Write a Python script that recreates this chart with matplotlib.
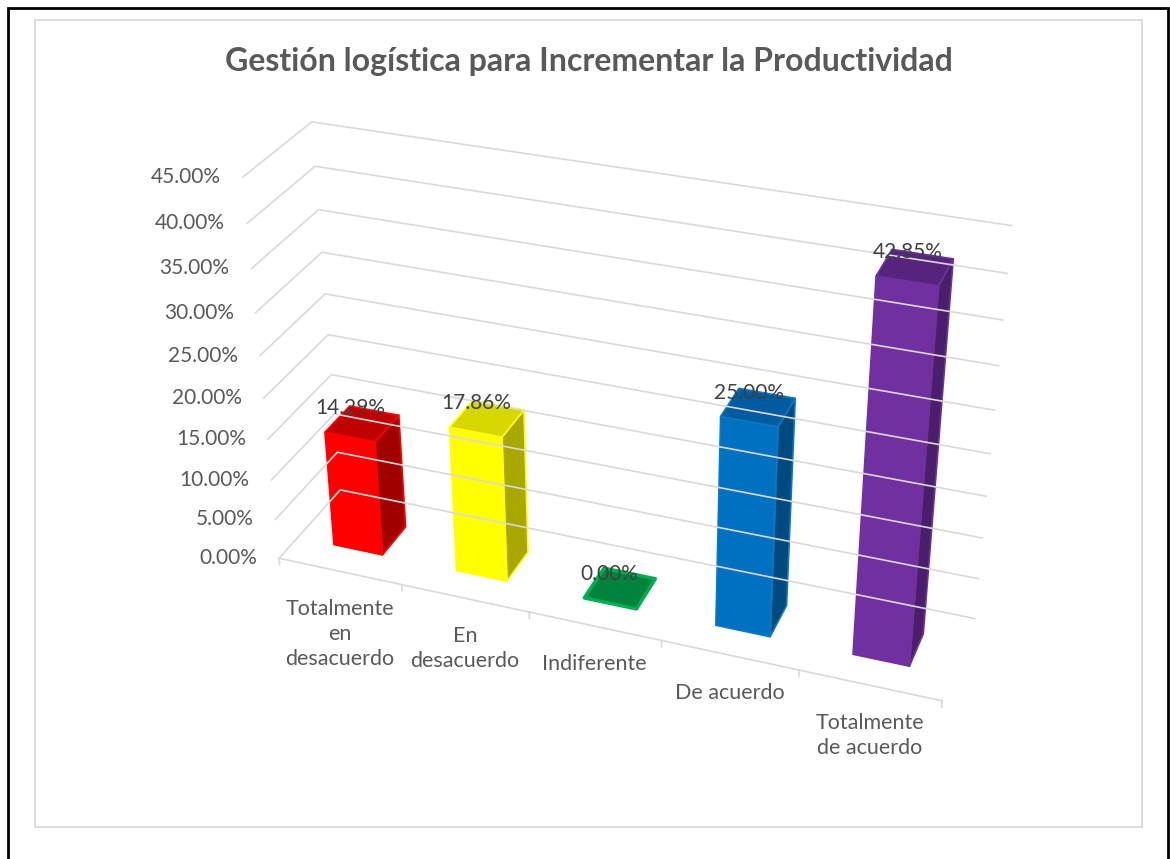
import numpy as np
import matplotlib
matplotlib.use('Agg')
import matplotlib.pyplot as plt
from matplotlib.patches import Rectangle
from matplotlib.transforms import offset_copy
from mpl_toolkits.mplot3d.art3d import Poly3DCollection

categories = ['Totalmente\nen\ndesacuerdo', 'En\ndesacuerdo', 'Indiferente',
              'De acuerdo', 'Totalmente\nde acuerdo']
values = [14.29, 17.86, 0.00, 25.00, 42.85]
pct_ticks = [0, 5, 10, 15, 20, 25, 30, 35, 40, 45]
front_colors = ['#FF0000', '#FFFF00', '#00843D', '#0070C0', '#7030A0']
top_colors = ['#C00000', '#D6D600', '#00843D', '#005C9E', '#57247D']
side_colors = ['#A00000', '#A8A800', '#00843D', '#004A80', '#4A1E6B']
edge_colors = ['#FF0000', '#FFFF00', '#00B050', '#0A78C8', '#7030A0']

plt.rcParams['font.family'] = ['Lato', 'DejaVu Sans']

W, H = 1170, 859
fig = plt.figure(figsize=(W / 100, H / 100), dpi=100)

# 3d axes, camera matched to the excel perspective view
ax = fig.add_axes([0.16128, 0.02894, 0.71604, 0.97528], projection='3d')
ax.set_xlim(0, 5)
ax.set_ylim(0, 1)
ax.set_zlim(0, 45)
ax.view_init(elev=30.014, azim=-69.607, roll=0.204)
ax.set_proj_type('persp', focal_length=0.4931)
ax.set_box_aspect((5, 1.0099, 3.0775))
ax.set_axis_off()
ax.computed_zorder = False

M = ax.get_proj()


def screen(x, y, z):
    # project a data point to the 2d coords of the axes
    v = M @ np.array([x, y, z, 1.0])
    return v[0] / v[3], v[1] / v[3]


grid_color = '#D9D9D9'
for z in pct_ticks:
    ax.plot([0, 0, 5], [0, 1, 1], [z, z, z], color=grid_color, lw=1.2)
ax.plot([0, 5], [0, 0], [0, 0], color=grid_color, lw=1.2)
for i in range(len(categories) + 1):
    ax.plot([i, i], [0, 0], [0, -0.8], color=grid_color, lw=1.2)

bw = 0.4
y0, y1 = 0.3, 0.7
for i, v in enumerate(values):
    x0, x1 = i + 0.5 - bw / 2, i + 0.5 + bw / 2
    top = [(x0, y0, v), (x1, y0, v), (x1, y1, v), (x0, y1, v)]
    if v > 0:
        front = [(x0, y0, 0), (x1, y0, 0), (x1, y0, v), (x0, y0, v)]
        side = [(x1, y0, 0), (x1, y1, 0), (x1, y1, v), (x1, y0, v)]
        faces = [front, side, top]
        fcs = [front_colors[i], side_colors[i], top_colors[i]]
        lw = 1.2
    else:
        faces = [top]
        fcs = [top_colors[i]]
        lw = 2.5
    ax.add_collection3d(Poly3DCollection(faces, facecolors=fcs, edgecolors=edge_colors[i],
                                         linewidths=lw))

tick_tr = offset_copy(ax.transData, fig=fig, x=-22, y=0, units='dots')
for z in pct_ticks:
    ax.text2D(*screen(0, 0, z), '%.2f%%' % z, transform=tick_tr, ha='right', va='center',
              fontsize=15, color='#595959')

cat_tr = offset_copy(ax.transData, fig=fig, x=0, y=-28, units='dots')
for i, lab in enumerate(categories):
    ax.text2D(*screen(i + 0.5, 0, 0), lab, transform=cat_tr, ha='center', va='top',
              fontsize=15.5, color='#595959', linespacing=1.3, multialignment='center')

val_tr = offset_copy(ax.transData, fig=fig, x=0, y=29, units='dots')
for i, v in enumerate(values):
    ax.text2D(*screen(i + 0.5, y0, v), '%.2f%%' % v, transform=val_tr, ha='center',
              va='center', fontsize=15, color='#404040')

fig.text(588.5 / W, 1 - 62 / H, 'Gestión logística para Incrementar la Productividad',
         ha='center', va='center', fontsize=23, fontweight='bold', color='#595959')

# chart area border and outer frame
fig.add_artist(Rectangle((35 / W, 1 - 827 / H), (1142 - 35) / W, (827 - 20) / H,
                         transform=fig.transFigure, fill=False, ec='#D9D9D9', lw=1.3))
fig.add_artist(Rectangle((8 / W, -0.05), 1160 / W, 1.05 - 8 / H,
                         transform=fig.transFigure, fill=False, ec='black', lw=2))

fig.savefig('out.png', dpi=100)
